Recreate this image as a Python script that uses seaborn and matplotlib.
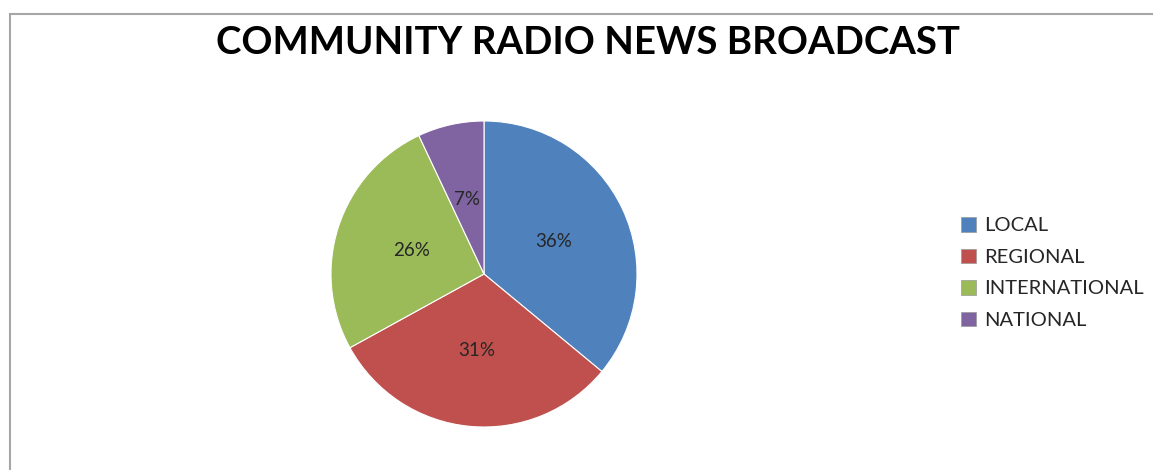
import matplotlib
matplotlib.use("Agg")
import matplotlib.pyplot as plt
from matplotlib.patches import Rectangle, Patch
import seaborn as sns

categories = ["LOCAL", "REGIONAL", "INTERNATIONAL", "NATIONAL"]
values = [36, 31, 26, 7]
colors = ["#4F81BD", "#C0504D", "#9BBB59", "#8064A2"]
title = "COMMUNITY RADIO NEWS BROADCAST"

sns.set_theme(style="white")
plt.rcParams['font.family'] = ['Lato', 'DejaVu Sans']

W, H = 1153, 470
fig = plt.figure(figsize=(W / 100, H / 100), dpi=100)
fig.patch.set_facecolor("white")

# outer chart border (only top and left visible in reference)
fig.patches.append(Rectangle((9.5 / W, -0.1), 2, (H - 14.5) / H + 0.1,
                             transform=fig.transFigure, fill=False,
                             edgecolor="#a6a6a6", linewidth=1.5))

cx, cy, r = 484, 274, 153
ax = fig.add_axes([(cx - r) / W, (H - cy - r) / H, 2 * r / W, 2 * r / H])
pal = sns.color_palette(colors)
wedges, texts, autotexts = ax.pie(values, colors=pal, startangle=90,
                                  counterclock=False, autopct="%d%%",
                                  pctdistance=0.5,
                                  wedgeprops=dict(edgecolor="white", linewidth=0.8),
                                  textprops=dict(fontsize=13.5, color="#262626"))
ax.set_xlim(-1, 1)
ax.set_ylim(-1, 1)
ax.set_aspect("equal")
ax.axis("off")

fig.text(588 / W, 1 - 43 / H, title, ha="center", va="center",
         fontsize=27.6, fontweight="bold", color="#000000")

handles = [Patch(facecolor=c, edgecolor="#999999", linewidth=0.5) for c in pal]
fig.legend(handles, categories, loc="center left",
           bbox_to_anchor=(953 / W, 1 - 273 / H), frameon=False,
           fontsize=14.5, handlelength=0.75, handleheight=0.75,
           handletextpad=0.4, labelspacing=0.7, borderaxespad=0,
           labelcolor="#262626")

fig.savefig("out.png", dpi=100)
